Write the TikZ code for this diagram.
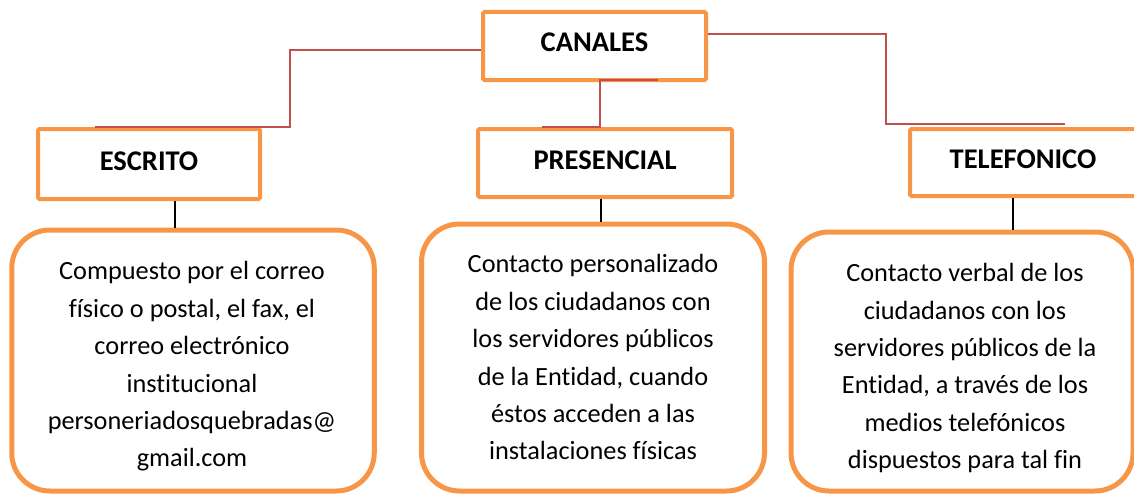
\documentclass[tikz,border=0pt]{standalone}
\usepackage{fontspec}
\setmainfont{Carlito}[Ligatures={NoCommon,NoRequired,NoContextual}]
\usepackage{xcolor}
\usepackage{tikz}
\definecolor{boxorange}{HTML}{F79646}
\definecolor{linkred}{HTML}{C0504D}

\begin{document}
\begin{tikzpicture}[x=1pt, y=-1pt]
    % Define the style for the nodes
    \tikzstyle{head} = [rectangle, draw=boxorange, line width=4pt, rounded corners=1.5pt, inner sep=0pt, font=\fontsize{28.5}{34}\selectfont\bfseries, text height=18pt, text depth=6pt]
    \tikzstyle{body} = [rectangle, draw=boxorange, line width=5pt, rounded corners=38pt]
    \tikzstyle{bodytext} = [align=center, inner sep=0pt, font=\fontsize{26.3}{37.4}\selectfont]
    \tikzstyle{link} = [draw=linkred, line width=1.3pt]
    \tikzstyle{stem} = [draw=black, line width=1.3pt]

    \useasboundingbox (0,0) rectangle (1134,495);

    % Place the nodes
    \node [head, minimum width=223pt, minimum height=68pt] (canales) at (594.5,46) {CANALES};
    \node [head, minimum width=222pt, minimum height=70pt] (escrito) at (149,164) {ESCRITO};
    \node [head, minimum width=254pt, minimum height=68pt] (presencial) at (605,163) {PRESENCIAL};
    \node [head, minimum width=226pt, minimum height=67pt] (telefonico) at (1023,162.5) {TELEFONICO};

    \node [body, minimum width=362.5pt, minimum height=261pt] (escritobox) at (193,360.5) {};
    \node [body, minimum width=343pt, minimum height=267pt] (presencialbox) at (593,357.5) {};
    \node [body, minimum width=342pt, minimum height=259pt] (telefonicobox) at (962,361.5) {};

    \node [bodytext] (escritotext) at (192,366) {\strut Compuesto por el correo\\ físico o postal, el fax, el\\ correo electrónico\\ institucional\\ personeriadosquebradas@\\ gmail.com\strut};
    \node [bodytext] (presencialtext) at (593,359) {\strut Contacto personalizado\\ de los ciudadanos con\\ los servidores públicos\\ de la Entidad, cuando\\ éstos acceden a las\\ instalaciones físicas\strut};
    \node [bodytext] (telefonicotext) at (965,367.7) {\strut Contacto verbal de los\\ ciudadanos con los\\ servidores públicos de la\\ Entidad, a través de los\\ medios telefónicos\\ dispuestos para tal fin\strut};

    % Connect the nodes with paths
    \path [link] ([yshift=-4pt]canales.west) -- ++(-191,0) |- ([xshift=-54pt]escrito.north);
    \path [link] ([xshift=63.5pt,yshift=2pt]canales.south) -- ++(-58,0) |- ([xshift=-63pt]presencial.north);
    \path [link] ([yshift=12pt]canales.east) -- ++(178,0) |- ([xshift=42pt,yshift=3pt]telefonico.north);

    \path [stem] ([xshift=26pt]escrito.south) -- ([xshift=-18pt]escritobox.north);
    \path [stem] ([xshift=-4pt]presencial.south) -- ([xshift=8pt]presencialbox.north);
    \path [stem] ([xshift=-10pt]telefonico.south) -- ([xshift=51pt]telefonicobox.north);

\end{tikzpicture}
\end{document}
